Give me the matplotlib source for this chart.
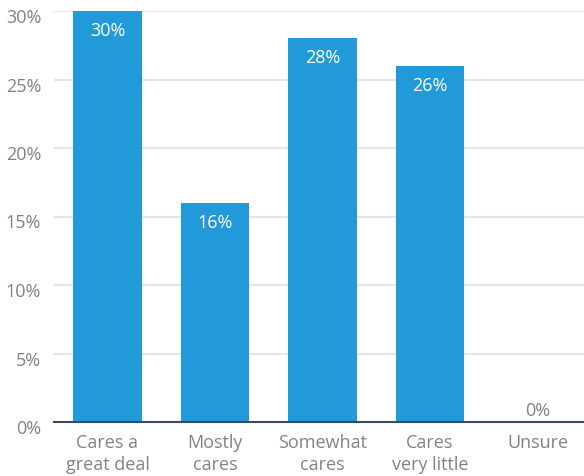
import matplotlib
matplotlib.use("Agg")
import matplotlib.pyplot as plt
from matplotlib.transforms import ScaledTranslation, offset_copy

categories = ["Cares a\ngreat deal", "Mostly\ncares", "Somewhat\ncares", "Cares\nvery little", "Unsure"]
values = [30, 16, 28, 26, 0]
yticks = [0, 5, 10, 15, 20, 25, 30]

plt.rcParams["font.family"] = ["Open Sans", "DejaVu Sans"]

BAR = "#2299d8"
GRID = "#e4e4ea"
TEXT = "#7d838d"
BASE = "#3c4a5e"
FS = 13

fig = plt.figure(figsize=(5.84, 4.77), dpi=100)
ax = fig.add_axes([53.75 / 584, 54 / 477, 537.5 / 584, 411 / 477])

x = list(range(len(categories)))
bars = ax.bar(x, values, width=0.64, color=BAR, zorder=3)

ax.set_xlim(-0.5, len(categories) - 0.5)
ax.set_ylim(0, 30)
ax.set_yticks(yticks)
ax.set_yticklabels([f"{v}%" for v in yticks])
ax.set_xticks(x)
ax.set_xticklabels(categories, linespacing=1.25)

for s in ["top", "right", "left"]:
    ax.spines[s].set_visible(False)
ax.spines["bottom"].set_color(BASE)
ax.spines["bottom"].set_linewidth(1.5)
ax.spines["bottom"].set_zorder(4)

ax.yaxis.grid(True, color=GRID, linewidth=1.5, zorder=0)
ax.set_axisbelow(True)
ax.tick_params(axis="both", length=0, labelsize=FS, labelcolor=TEXT)
ax.tick_params(axis="y", pad=9)
ax.tick_params(axis="x", pad=8)

# y tick labels sit slightly below their gridlines
shift = ScaledTranslation(0, -4 / 100, fig.dpi_scale_trans)
for lbl in ax.get_yticklabels():
    lbl.set_transform(lbl.get_transform() + shift)

for xi, v in zip(x, values):
    if v > 2:
        tr = offset_copy(ax.transData, fig=fig, x=0, y=-19, units="dots")
        ax.text(xi, v, f"{v}%", transform=tr, ha="center", va="center",
                color="white", fontsize=FS, zorder=5)
    else:
        tr = offset_copy(ax.transData, fig=fig, x=0, y=12, units="dots")
        ax.text(xi, v, f"{v}%", transform=tr, ha="center", va="center",
                color=TEXT, fontsize=FS, zorder=5)

fig.savefig("out.png", dpi=100)
